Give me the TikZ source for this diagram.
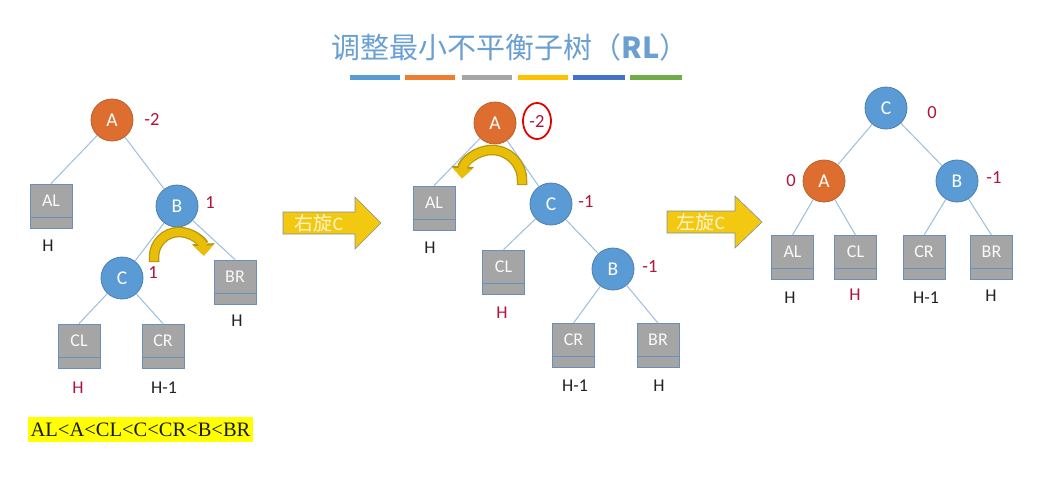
\documentclass[tikz,border=0pt]{standalone}
\usepackage{fontspec}
\setmainfont{Carlito}
\newfontfamily\cjk{Noto Sans CJK SC}
\newfontfamily\tnr{Liberation Serif}
\usetikzlibrary{arrows.meta}
\definecolor{nodeblue}{HTML}{5B9BD5}
\definecolor{nodeblueedge}{HTML}{4A7FB0}
\definecolor{nodeorange}{HTML}{DD6E30}
\definecolor{nodeorangeedge}{HTML}{B8612F}
\definecolor{boxgray}{HTML}{A5A5A5}
\definecolor{boxedge}{HTML}{6A8FB8}
\definecolor{edgeblue}{HTML}{9BBFE0}
\definecolor{balred}{HTML}{B0143C}
\definecolor{hblack}{HTML}{222222}
\definecolor{titleblue}{HTML}{6A9FD2}
\definecolor{arrowgold}{HTML}{E8BE08}
\definecolor{arrowdark}{HTML}{B8960C}
\definecolor{blockyellow}{HTML}{F2C811}
\definecolor{blockedge}{HTML}{8090A0}
\definecolor{blocktext}{HTML}{FFF5CC}
\definecolor{barA}{HTML}{5B9BD5}
\definecolor{barB}{HTML}{ED7D31}
\definecolor{barC}{HTML}{A5A5A5}
\definecolor{barD}{HTML}{FFC000}
\definecolor{barE}{HTML}{4472C4}
\definecolor{barF}{HTML}{70AD47}
\definecolor{hiyellow}{HTML}{FFFF00}
\begin{document}
\begin{tikzpicture}[x=1pt,y=1pt,
  circ/.style={circle,minimum size=42pt,inner sep=0pt,text=white,line width=0.8pt,font=\fontsize{19.5}{19.5}\selectfont},
  bnode/.style={circ,fill=nodeblue,draw=nodeblueedge},
  onode/.style={circ,fill=nodeorange,draw=nodeorangeedge},
  tbox/.style={rectangle,minimum width=42pt,inner xsep=0pt,inner ysep=0pt,text height=22pt,text depth=22pt,
    fill=boxgray,draw=boxedge,line width=0.8pt,text=white!95!gray,font=\fontsize{18}{18}\selectfont,
    path picture={\draw[boxedge,line width=0.8pt] ([yshift=11pt]path picture bounding box.south west) -- ([yshift=11pt]path picture bounding box.south east);}},
  conn/.style={draw=edgeblue,line width=1pt},
  bal/.style={text=balred,font=\fontsize{18.5}{18.5}\selectfont},
  hlab/.style={text=hblack,font=\fontsize{18}{18}\selectfont},
  hred/.style={hlab,text=balred},
  block/.style={fill=blockyellow,draw=blockedge,line width=0.6pt},
  blocklabel/.style={text=blocktext,font=\fontsize{19}{19}\selectfont}
]
\fill[white] (0,0) rectangle (1045,-499);
\useasboundingbox (0,0) rectangle (1045,-499);

% title
\node[text=titleblue,font=\fontsize{29}{29}\selectfont] (title) at (510,-47) {\cjk 调整最小不平衡子树（{\bfseries RL}）};
\fill[barA] (350,-75) rectangle (400,-80);
\fill[barB] (405,-75) rectangle (455,-80);
\fill[barC] (462,-75) rectangle (512,-80);
\fill[barD] (518,-75) rectangle (568,-80);
\fill[barE] (573,-75) rectangle (625,-80);
\fill[barF] (630,-75) rectangle (682,-80);

% ---------- tree 1 ----------
\node[onode] (a1) at (112,-120) {A};
\node[bnode] (b1) at (177,-206) {B};
\node[bnode] (c1) at (122,-278) {C};
\node[tbox] (al1) at (51,-206) {AL};
\node[tbox] (br1) at (235,-282) {BR};
\node[tbox] (cl1) at (79,-346) {CL};
\node[tbox] (cr1) at (163,-346) {CR};
\draw[conn] (a1) -- (al1.north);
\draw[conn] (a1) -- (b1);
\draw[conn] (b1) -- (c1);
\draw[conn] (b1) -- (br1.north);
\draw[conn] (c1) -- (cl1.north);
\draw[conn] (c1) -- (cr1.north);
\node[bal] (ba1) at (152,-119) {-2};
\node[bal] (bb1) at (210,-203) {1};
\node[bal] (bc1) at (153,-273) {1};
\node[hlab] (hal1) at (48,-246) {H};
\node[hlab] (hbr1) at (237,-321) {H};
\node[hred] (hcl1) at (78,-388) {H};
\node[hlab] (hcr1) at (164,-388) {H-1};
\draw[line width=10.5pt,arrowdark,-{Triangle[width=22pt,length=12pt]}] (154,-262) -- (154,-257) arc[start angle=180,end angle=3,radius=25];
\draw[line width=8pt,arrowgold,-{Triangle[width=19pt,length=10pt]}] (154,-261) -- (154,-257) arc[start angle=180,end angle=3,radius=25];
\node[fill=hiyellow,minimum width=225pt,minimum height=25pt,inner sep=0pt,text=black!90,font=\tnr\fontsize{20.5}{20.5}\selectfont] (order) at (140.5,-429.5) {AL<A<CL<C<CR<B<BR};

% block arrow 1
\draw[block] (283,-212) -- (355,-212) -- (355,-197) -- (381,-223) -- (355,-249) -- (355,-234) -- (283,-234) -- cycle;
\node[blocklabel] (r1) at (319,-223) {{\cjk 右旋}C};

% ---------- tree 2 ----------
\node[onode] (a2) at (495,-123) {A};
\node[bnode] (c2) at (551,-204) {C};
\node[bnode] (b2) at (613,-269) {B};
\node[tbox] (al2) at (434,-208) {AL};
\node[tbox] (cl2) at (503.5,-272) {CL};
\node[tbox] (cr2) at (573.5,-345.5) {CR};
\node[tbox] (br2) at (658,-345.5) {BR};
\draw[conn] (a2) -- (al2.north);
\draw[conn] (a2) -- (c2);
\draw[conn] (c2) -- (cl2.north);
\draw[conn] (c2) -- (b2);
\draw[conn] (b2) -- (cr2.north);
\draw[conn] (b2) -- (br2.north);
\node[bal] (ba2) at (537,-121) {-2};
\draw[red!90!black,line width=1.8pt] (ba2.center) ellipse[x radius=14, y radius=18];
\node[bal] (bc2) at (586,-202) {-1};
\node[bal] (bb2) at (650,-267) {-1};
\node[hlab] (hal2) at (430,-248) {H};
\node[hred] (hcl2) at (502,-313) {H};
\node[hlab] (hcr2) at (575,-386) {H-1};
\node[hlab] (hbr2) at (659,-386) {H};
\draw[line width=10.5pt,arrowdark,-{Triangle[width=22pt,length=12pt]}] (522,-185) -- (522,-180) arc[start angle=0,end angle=177,radius=30];
\draw[line width=8pt,arrowgold,-{Triangle[width=19pt,length=10pt]}] (522,-184) -- (522,-180) arc[start angle=0,end angle=177,radius=30];

% block arrow 2
\draw[block] (667,-211) -- (735,-211) -- (735,-196) -- (762,-222) -- (735,-248) -- (735,-233) -- (667,-233) -- cycle;
\node[blocklabel] (r2) at (701,-222) {{\cjk 左旋}C};

% ---------- tree 3 ----------
\node[bnode] (c3) at (886,-108) {C};
\node[onode] (a3) at (824,-181) {A};
\node[bnode] (b3) at (957,-181) {B};
\node[tbox] (al3) at (792.5,-257.5) {AL};
\node[tbox] (cl3) at (855.5,-257.5) {CL};
\node[tbox] (cr3) at (924,-257.5) {CR};
\node[tbox] (br3) at (991.5,-257.5) {BR};
\draw[conn] (c3) -- (a3);
\draw[conn] (c3) -- (b3);
\draw[conn] (a3) -- (al3.north);
\draw[conn] (a3) -- (cl3.north);
\draw[conn] (b3) -- (cr3.north);
\draw[conn] (b3) -- (br3.north);
\node[bal] (bc3) at (932,-113) {0};
\node[bal] (ba3) at (791,-181) {0};
\node[bal] (bb3) at (994,-178) {-1};
\node[hlab] (hal3) at (790,-298) {H};
\node[hred] (hcl3) at (855,-295) {H};
\node[hlab] (hcr3) at (926,-298) {H-1};
\node[hlab] (hbr3) at (991,-296) {H};
\end{tikzpicture}
\end{document}
